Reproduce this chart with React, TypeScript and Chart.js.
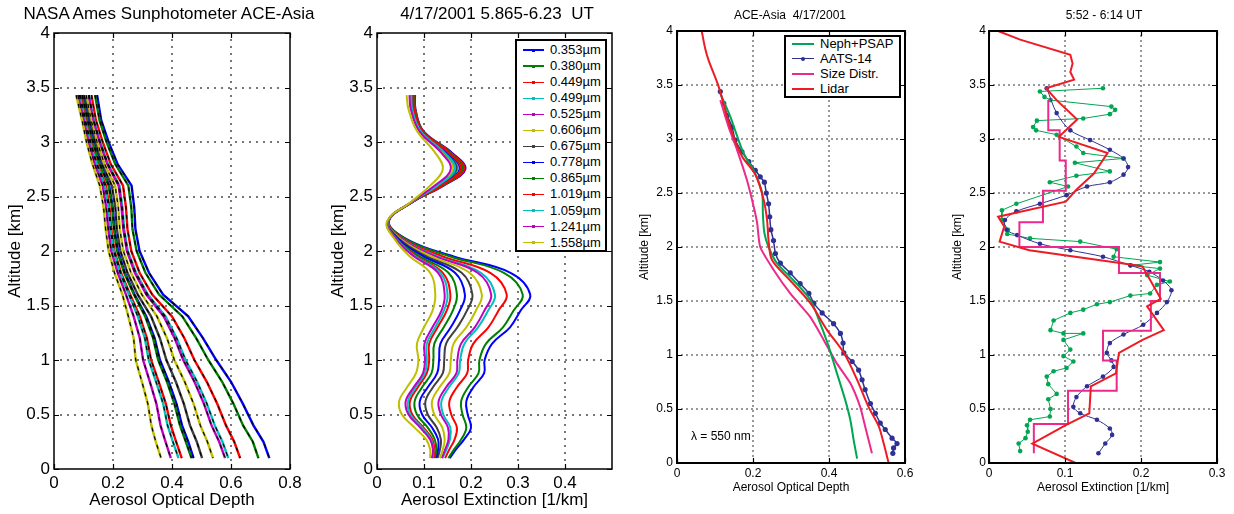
import React, { useEffect, useRef } from 'react';
import { Chart, registerables } from 'chart.js';

Chart.register(...registerables);

const FONT = '"Liberation Sans", Arial, Helvetica, sans-serif';
const H = 514;

// ================= Panel 1: AOD profiles (13 wavelengths) =================
const ALT1 = [3.43, 3.2, 3.0, 2.8, 2.6, 2.4, 2.2, 2.0, 1.8, 1.6, 1.4, 1.2, 1.0, 0.8, 0.6, 0.4, 0.25, 0.1];
const AOD_353 = [0.146, 0.16, 0.185, 0.215, 0.263, 0.272, 0.276, 0.29, 0.322, 0.37, 0.455, 0.505, 0.55, 0.6, 0.64, 0.676, 0.71, 0.73];
const AOD_380 = [0.139, 0.154, 0.178, 0.207, 0.252, 0.262, 0.266, 0.28, 0.31, 0.356, 0.435, 0.482, 0.523, 0.57, 0.608, 0.641, 0.674, 0.693];
const AOD_449 = [0.127, 0.142, 0.165, 0.192, 0.234, 0.244, 0.249, 0.262, 0.29, 0.333, 0.4, 0.442, 0.476, 0.518, 0.553, 0.583, 0.611, 0.631];
const AOD_499 = [0.119, 0.135, 0.157, 0.183, 0.222, 0.232, 0.238, 0.25, 0.278, 0.318, 0.378, 0.416, 0.446, 0.485, 0.518, 0.545, 0.571, 0.591];
const AOD_525 = [0.117, 0.133, 0.154, 0.18, 0.219, 0.229, 0.235, 0.247, 0.274, 0.313, 0.372, 0.409, 0.438, 0.476, 0.508, 0.534, 0.56, 0.58];
const AOD_606 = [0.109, 0.126, 0.146, 0.171, 0.207, 0.218, 0.223, 0.235, 0.261, 0.298, 0.349, 0.383, 0.408, 0.443, 0.473, 0.496, 0.52, 0.539];
const AOD_675 = [0.102, 0.12, 0.139, 0.162, 0.196, 0.208, 0.213, 0.225, 0.249, 0.284, 0.329, 0.359, 0.381, 0.413, 0.44, 0.461, 0.484, 0.502];
const AOD_778 = [0.096, 0.115, 0.133, 0.156, 0.187, 0.199, 0.205, 0.217, 0.24, 0.273, 0.313, 0.341, 0.359, 0.389, 0.415, 0.434, 0.455, 0.473];
const AOD_865 = [0.095, 0.113, 0.131, 0.154, 0.185, 0.197, 0.203, 0.214, 0.238, 0.271, 0.309, 0.336, 0.353, 0.383, 0.408, 0.427, 0.447, 0.466];
const AOD_1019 = [0.089, 0.107, 0.124, 0.146, 0.176, 0.188, 0.194, 0.205, 0.227, 0.258, 0.291, 0.315, 0.329, 0.355, 0.379, 0.396, 0.414, 0.433];
const AOD_1059 = [0.086, 0.105, 0.122, 0.144, 0.172, 0.185, 0.191, 0.202, 0.224, 0.254, 0.284, 0.308, 0.321, 0.346, 0.37, 0.385, 0.403, 0.422];
const AOD_1241 = [0.081, 0.101, 0.117, 0.138, 0.165, 0.177, 0.184, 0.194, 0.216, 0.244, 0.27, 0.291, 0.302, 0.325, 0.347, 0.361, 0.378, 0.396];
const AOD_1558 = [0.075, 0.095, 0.11, 0.13, 0.155, 0.168, 0.175, 0.185, 0.205, 0.232, 0.252, 0.27, 0.277, 0.298, 0.318, 0.33, 0.345, 0.363];

// ================= Panel 2: extinction profiles =================
const ALT2 = [3.43, 3.3, 3.1, 2.9, 2.75, 2.6, 2.45, 2.27, 2.1, 1.95, 1.8, 1.6, 1.45, 1.3, 1.15, 1.0, 0.88, 0.75, 0.62, 0.5, 0.38, 0.27, 0.18, 0.1];
const EXT_353 = [0.081, 0.082, 0.099, 0.16, 0.188, 0.142, 0.076, 0.025, 0.067, 0.163, 0.284, 0.326, 0.305, 0.283, 0.245, 0.229, 0.228, 0.205, 0.19, 0.193, 0.2, 0.185, 0.168, 0.155];
const EXT_380 = [0.079, 0.081, 0.098, 0.156, 0.183, 0.139, 0.076, 0.025, 0.065, 0.156, 0.27, 0.31, 0.29, 0.268, 0.232, 0.218, 0.216, 0.194, 0.179, 0.182, 0.19, 0.179, 0.164, 0.152];
const EXT_449 = [0.08, 0.081, 0.098, 0.158, 0.186, 0.141, 0.076, 0.025, 0.06, 0.14, 0.241, 0.276, 0.258, 0.237, 0.205, 0.194, 0.192, 0.17, 0.154, 0.158, 0.17, 0.165, 0.154, 0.145];
const EXT_499 = [0.075, 0.077, 0.094, 0.147, 0.171, 0.132, 0.075, 0.024, 0.057, 0.129, 0.221, 0.251, 0.236, 0.215, 0.186, 0.177, 0.174, 0.153, 0.137, 0.141, 0.156, 0.155, 0.148, 0.139];
const EXT_525 = [0.072, 0.075, 0.092, 0.142, 0.164, 0.128, 0.074, 0.023, 0.056, 0.125, 0.214, 0.243, 0.228, 0.208, 0.179, 0.171, 0.169, 0.147, 0.131, 0.136, 0.151, 0.152, 0.145, 0.138];
const EXT_606 = [0.071, 0.074, 0.091, 0.14, 0.162, 0.126, 0.074, 0.023, 0.053, 0.116, 0.197, 0.223, 0.21, 0.19, 0.163, 0.157, 0.154, 0.133, 0.117, 0.122, 0.139, 0.144, 0.14, 0.134];
const EXT_675 = [0.074, 0.076, 0.093, 0.146, 0.169, 0.13, 0.074, 0.023, 0.05, 0.106, 0.18, 0.203, 0.191, 0.171, 0.147, 0.143, 0.14, 0.119, 0.103, 0.108, 0.127, 0.136, 0.134, 0.129];
const EXT_778 = [0.077, 0.078, 0.096, 0.151, 0.176, 0.135, 0.075, 0.024, 0.048, 0.099, 0.166, 0.187, 0.176, 0.157, 0.135, 0.132, 0.128, 0.108, 0.091, 0.096, 0.117, 0.13, 0.13, 0.126];
const EXT_865 = [0.078, 0.08, 0.097, 0.155, 0.181, 0.138, 0.075, 0.024, 0.045, 0.091, 0.152, 0.17, 0.161, 0.142, 0.122, 0.12, 0.116, 0.096, 0.08, 0.085, 0.108, 0.123, 0.126, 0.123];
const EXT_1019 = [0.077, 0.079, 0.096, 0.153, 0.178, 0.136, 0.075, 0.024, 0.043, 0.085, 0.14, 0.156, 0.148, 0.129, 0.111, 0.111, 0.106, 0.087, 0.07, 0.075, 0.099, 0.118, 0.122, 0.12];
const EXT_1059 = [0.073, 0.075, 0.093, 0.144, 0.166, 0.129, 0.074, 0.023, 0.043, 0.082, 0.135, 0.15, 0.142, 0.124, 0.106, 0.106, 0.102, 0.082, 0.066, 0.071, 0.096, 0.115, 0.12, 0.118];
const EXT_1241 = [0.069, 0.072, 0.09, 0.137, 0.157, 0.123, 0.073, 0.022, 0.042, 0.079, 0.13, 0.144, 0.137, 0.118, 0.101, 0.102, 0.098, 0.078, 0.061, 0.067, 0.092, 0.113, 0.119, 0.117];
const EXT_1558 = [0.063, 0.067, 0.085, 0.124, 0.14, 0.113, 0.072, 0.021, 0.039, 0.07, 0.113, 0.124, 0.118, 0.1, 0.085, 0.088, 0.083, 0.064, 0.047, 0.053, 0.08, 0.105, 0.113, 0.113];

const WAVELENGTHS = ['0.353', '0.380', '0.449', '0.499', '0.525', '0.606', '0.675', '0.778', '0.865', '1.019', '1.059', '1.241', '1.558'];
const WL_COLORS = ['#0000ff', '#008000', '#ff0000', '#00bfbf', '#bf00bf', '#bfbf00', '#404040', '#0000ff', '#008000', '#ff0000', '#00bfbf', '#bf00bf', '#bfbf00'];
const AOD_SERIES = [AOD_353, AOD_380, AOD_449, AOD_499, AOD_525, AOD_606, AOD_675, AOD_778, AOD_865, AOD_1019, AOD_1059, AOD_1241, AOD_1558];
const EXT_SERIES = [EXT_353, EXT_380, EXT_449, EXT_499, EXT_525, EXT_606, EXT_675, EXT_778, EXT_865, EXT_1019, EXT_1059, EXT_1241, EXT_1558];

// ================= Panel 3: AOD comparison at 550 nm =================
const NEPH3_AOD = [0.114, 0.14, 0.153, 0.175, 0.206, 0.224, 0.226, 0.23, 0.241, 0.263, 0.307, 0.351, 0.377, 0.399, 0.421, 0.443, 0.456, 0.465, 0.474];
const NEPH3_ALT = [3.42, 3.21, 3.08, 2.87, 2.68, 2.5, 2.31, 2.13, 2.0, 1.85, 1.69, 1.51, 1.29, 1.08, 0.83, 0.58, 0.4, 0.21, 0.04];
const AATS3_AOD = [0.114, 0.123, 0.132, 0.145, 0.153, 0.171, 0.189, 0.206, 0.219, 0.23, 0.235, 0.241, 0.244, 0.247, 0.254, 0.259, 0.272, 0.298, 0.324, 0.347, 0.36, 0.382, 0.412, 0.43, 0.437, 0.439, 0.461, 0.478, 0.487, 0.495, 0.509, 0.522, 0.535, 0.548, 0.566, 0.579, 0.57, 0.568];
const AATS3_ALT = [3.44, 3.33, 3.22, 3.11, 2.99, 2.88, 2.79, 2.71, 2.65, 2.6, 2.5, 2.4, 2.28, 2.16, 2.06, 1.94, 1.85, 1.76, 1.66, 1.57, 1.48, 1.39, 1.29, 1.2, 1.11, 1.02, 0.94, 0.86, 0.77, 0.68, 0.55, 0.46, 0.37, 0.31, 0.23, 0.18, 0.14, 0.09];
const SIZE3_AOD = [0.114, 0.136, 0.158, 0.184, 0.202, 0.211, 0.219, 0.254, 0.298, 0.351, 0.386, 0.421, 0.456, 0.482, 0.495, 0.513];
const SIZE3_ALT = [3.36, 3.11, 2.9, 2.62, 2.37, 2.22, 2.0, 1.79, 1.57, 1.35, 1.14, 0.92, 0.74, 0.52, 0.34, 0.09];
const LIDAR3_AOD = [0.065, 0.074, 0.083, 0.11, 0.14, 0.171, 0.206, 0.228, 0.237, 0.241, 0.25, 0.298, 0.351, 0.395, 0.439, 0.474, 0.504, 0.531, 0.544, 0.557];
const LIDAR3_ALT = [4.0, 3.84, 3.73, 3.48, 3.11, 2.84, 2.67, 2.44, 2.25, 2.06, 1.88, 1.69, 1.48, 1.23, 1.02, 0.77, 0.52, 0.34, 0.18, 0.0];

// ================= Panel 4: extinction comparison =================
const NEPH4_EXT = [0.15, 0.067, 0.073, 0.081, 0.161, 0.166, 0.159, 0.124, 0.063, 0.058, 0.062, 0.089, 0.115, 0.124, 0.177, 0.113, 0.159, 0.115, 0.08, 0.104, 0.036, 0.017, 0.017, 0.025, 0.024, 0.054, 0.12, 0.168, 0.164, 0.225, 0.186, 0.225, 0.208, 0.238, 0.221, 0.212, 0.186, 0.159, 0.142, 0.124, 0.107, 0.085, 0.081, 0.098, 0.124, 0.098, 0.107, 0.098, 0.111, 0.102, 0.085, 0.076, 0.078, 0.089, 0.078, 0.081, 0.08, 0.054, 0.05, 0.051, 0.048, 0.039, 0.041];
const NEPH4_ALT = [3.47, 3.44, 3.39, 3.36, 3.3, 3.27, 3.23, 3.19, 3.17, 3.11, 3.08, 3.04, 2.93, 2.87, 2.82, 2.78, 2.7, 2.66, 2.6, 2.56, 2.4, 2.34, 2.25, 2.16, 2.12, 2.08, 2.05, 1.98, 1.91, 1.86, 1.83, 1.8, 1.74, 1.68, 1.65, 1.57, 1.55, 1.49, 1.47, 1.42, 1.39, 1.32, 1.23, 1.2, 1.2, 1.14, 1.05, 0.99, 0.94, 0.88, 0.85, 0.8, 0.73, 0.64, 0.59, 0.5, 0.43, 0.4, 0.35, 0.29, 0.23, 0.18, 0.11];
const AATS4_EXT = [0.076, 0.089, 0.107, 0.133, 0.159, 0.177, 0.183, 0.177, 0.159, 0.129, 0.102, 0.067, 0.036, 0.021, 0.023, 0.037, 0.067, 0.107, 0.15, 0.186, 0.211, 0.229, 0.24, 0.234, 0.221, 0.203, 0.177, 0.159, 0.155, 0.161, 0.164, 0.15, 0.129, 0.115, 0.111, 0.12, 0.142, 0.159, 0.162, 0.153, 0.144];
const AATS4_ALT = [3.47, 3.24, 3.08, 2.99, 2.9, 2.82, 2.74, 2.67, 2.6, 2.56, 2.48, 2.4, 2.33, 2.25, 2.16, 2.11, 2.03, 1.97, 1.91, 1.83, 1.77, 1.69, 1.6, 1.49, 1.39, 1.28, 1.19, 1.11, 1.02, 0.95, 0.89, 0.8, 0.71, 0.61, 0.52, 0.46, 0.4, 0.32, 0.26, 0.18, 0.09];
const SIZE4_EXT = [0.078, 0.093, 0.101, 0.071, 0.04, 0.171, 0.225, 0.213, 0.15, 0.168, 0.104, 0.059, 0.059];
const SIZE4_ALT = [3.36, 3.08, 2.8, 2.52, 2.23, 2.0, 1.76, 1.5, 1.225, 0.95, 0.67, 0.36, 0.09];
const LIDAR4_EXT = [0.012, 0.041, 0.107, 0.11, 0.107, 0.112, 0.075, 0.089, 0.116, 0.092, 0.156, 0.138, 0.115, 0.101, 0.012, 0.02, 0.014, 0.053, 0.193, 0.202, 0.226, 0.208, 0.23, 0.202, 0.171, 0.167, 0.134, 0.132, 0.101, 0.057, 0.114];
const LIDAR4_ALT = [4.0, 3.92, 3.78, 3.7, 3.62, 3.55, 3.47, 3.36, 3.18, 3.02, 2.87, 2.68, 2.53, 2.42, 2.28, 2.19, 2.05, 1.97, 1.83, 1.82, 1.52, 1.45, 1.23, 1.14, 1.02, 0.83, 0.71, 0.46, 0.35, 0.18, 0.0];

const COMP_LABELS = ['Neph+PSAP', 'AATS-14', 'Size Distr.', 'Lidar'];
const COMP_COLORS = ['#00a651', '#2e3192', '#ec2a8c', '#ed1c24'];

// ================= Ticks =================
const Y_TICKS = [0, 0.5, 1, 1.5, 2, 2.5, 3, 3.5, 4];
const X1_TICKS = [0, 0.2, 0.4, 0.6, 0.8];
const X2_TICKS = [0, 0.1, 0.2, 0.3, 0.4];
const X3_TICKS = [0, 0.2, 0.4, 0.6];
const X4_TICKS = [0, 0.1, 0.2, 0.3];

const pts = (xs: number[], ys: number[]) => xs.map((x, i) => ({ x, y: ys[i] }));

type Spec = {
  cl: number; l: number; t: number; r: number; b: number; rp: number;
  xMax: number; xTicks: number[]; fs: number; xTitle: string; yTitle: string;
  yTitlePad: number; xTitlePad: number; xTickPad: number; yTickPad: number;
  dot: number; gap: number; grid: string; frameW: number;
};

// MATLAB-style axes: dotted grid under the data, black box with inward ticks on top
function makeFramePlugin(s: Spec) {
  const dotRow = (ctx: CanvasRenderingContext2D, x0: number, y0: number, x1: number, y1: number) => {
    const len = Math.hypot(x1 - x0, y1 - y0);
    const n = Math.floor(len / s.gap);
    for (let k = 1; k < n; k++) {
      const f = (k * s.gap) / len;
      const x = x0 + (x1 - x0) * f;
      const y = y0 + (y1 - y0) * f;
      ctx.fillRect(Math.round(x - s.dot / 2), Math.round(y - s.dot / 2), s.dot, s.dot);
    }
  };
  return {
    id: 'matlabFrame',
    beforeDatasetsDraw(chart: any) {
      const { ctx, chartArea: a, scales } = chart;
      ctx.save();
      ctx.fillStyle = s.grid;
      s.xTicks.forEach((v) => {
        const p = scales.x.getPixelForValue(v);
        if (p <= a.left + 2 || p >= a.right - 2) return;
        dotRow(ctx, p, a.top, p, a.bottom);
      });
      Y_TICKS.forEach((v) => {
        const p = scales.y.getPixelForValue(v);
        if (p <= a.top + 2 || p >= a.bottom - 2) return;
        dotRow(ctx, a.left, p, a.right, p);
      });
      ctx.restore();
    },
    afterDatasetsDraw(chart: any) {
      const { ctx, chartArea: a, scales } = chart;
      ctx.save();
      ctx.setLineDash([]);
      ctx.strokeStyle = '#000';
      ctx.lineWidth = s.frameW;
      ctx.strokeRect(a.left, a.top, a.right - a.left, a.bottom - a.top);
      const L = 5;
      ctx.lineWidth = 1.2;
      ctx.beginPath();
      s.xTicks.forEach((v) => {
        const p = Math.round(scales.x.getPixelForValue(v)) + 0.5;
        ctx.moveTo(p, a.bottom); ctx.lineTo(p, a.bottom - L);
        ctx.moveTo(p, a.top); ctx.lineTo(p, a.top + L);
      });
      Y_TICKS.forEach((v) => {
        const p = Math.round(scales.y.getPixelForValue(v)) + 0.5;
        ctx.moveTo(a.left, p); ctx.lineTo(a.left + L, p);
        ctx.moveTo(a.right, p); ctx.lineTo(a.right - L, p);
      });
      ctx.stroke();
      ctx.restore();
    },
  };
}

function makeOptions(s: Spec) {
  const font = { family: FONT, size: s.fs };
  const fmt = (v: any) => String(Number(v));
  return {
    responsive: false,
    maintainAspectRatio: false,
    animation: false,
    events: [],
    layout: { padding: { left: 0, right: s.rp, top: s.t, bottom: 0 } },
    plugins: {
      legend: { display: false },
      tooltip: { enabled: false },
      title: { display: false },
    },
    scales: {
      x: {
        type: 'linear', min: 0, max: s.xMax,
        afterBuildTicks: (sc: any) => { sc.ticks = s.xTicks.map((v) => ({ value: v })); },
        afterFit: (sc: any) => { sc.height = H - s.b; },
        grid: { display: false, drawTicks: false },
        border: { display: false },
        ticks: { color: '#000', font, padding: s.xTickPad, maxRotation: 0, autoSkip: false, callback: fmt },
        title: { display: true, text: s.xTitle, color: '#000', font, padding: { top: 0, bottom: s.xTitlePad } },
      },
      y: {
        type: 'linear', min: 0, max: 4,
        afterBuildTicks: (sc: any) => { sc.ticks = Y_TICKS.map((v) => ({ value: v })); },
        afterFit: (sc: any) => { sc.width = s.l - s.cl; },
        grid: { display: false, drawTicks: false },
        border: { display: false },
        ticks: { color: '#000', font, padding: s.yTickPad, autoSkip: false, callback: fmt },
        title: { display: true, text: s.yTitle, color: '#000', font, padding: { top: s.yTitlePad, bottom: 0 } },
      },
    },
  };
}

function Panel({ spec, build }: { spec: Spec; build: () => any[] }) {
  const ref = useRef<HTMLCanvasElement>(null);
  const w = spec.r + spec.rp - spec.cl;
  useEffect(() => {
    const chart = new Chart(ref.current as HTMLCanvasElement, {
      type: 'line',
      data: { datasets: build() },
      options: makeOptions(spec) as any,
      plugins: [makeFramePlugin(spec) as any],
    });
    return () => chart.destroy();
  }, []);
  return (
    <canvas ref={ref} width={w} height={H}
      style={{ position: 'absolute', left: spec.cl, top: 0, width: w, height: H }} />
  );
}

const SPEC1: Spec = { cl: 0, l: 54, t: 33, r: 290, b: 469, rp: 30, xMax: 0.8, xTicks: X1_TICKS, fs: 17,
  xTitle: 'Aerosol Optical Depth', yTitle: 'Altitude [km]', yTitlePad: 4.8, xTitlePad: 3.8, xTickPad: 4, yTickPad: 4,
  dot: 2, gap: 7, grid: '#777', frameW: 1.5 };
const SPEC2: Spec = { cl: 310, l: 377, t: 33, r: 612, b: 469, rp: 30, xMax: 0.5, xTicks: X2_TICKS, fs: 17,
  xTitle: 'Aerosol Extinction [1/km]', yTitle: 'Altitude [km]', yTitlePad: 17.8, xTitlePad: 3.8, xTickPad: 4, yTickPad: 4,
  dot: 2, gap: 7, grid: '#777', frameW: 1.5 };
const SPEC3: Spec = { cl: 620, l: 677, t: 31, r: 905, b: 463, rp: 25, xMax: 0.6, xTicks: X3_TICKS, fs: 12,
  xTitle: 'Aerosol Optical Depth', yTitle: 'Altitude [km]', yTitlePad: 17.8, xTitlePad: 18.8, xTickPad: 3, yTickPad: 4,
  dot: 2, gap: 5, grid: '#999', frameW: 2 };
const SPEC4: Spec = { cl: 930, l: 989, t: 31, r: 1217, b: 463, rp: 17, xMax: 0.3, xTicks: X4_TICKS, fs: 12,
  xTitle: 'Aerosol Extinction [1/km]', yTitle: 'Altitude [km]', yTitlePad: 20.8, xTitlePad: 18.8, xTickPad: 3, yTickPad: 3,
  dot: 2, gap: 5, grid: '#999', frameW: 2 };

const build1 = () => {
  const ds: any[] = [];
  AOD_SERIES.forEach((xs, i) => {
    const data = pts(xs, ALT1);
    ds.push({ label: WAVELENGTHS[i], data, borderColor: WL_COLORS[i], borderWidth: 2.4, pointRadius: 0, tension: 0, order: 20 - i });
    ds.push({ label: WAVELENGTHS[i] + ' err', data, borderColor: '#000', borderWidth: 1.2, borderDash: [4, 5], pointRadius: 0, tension: 0, order: 0 });
  });
  return ds;
};

const build2 = () =>
  EXT_SERIES.map((xs, i) => ({
    label: WAVELENGTHS[i] + 'µm', data: pts(xs, ALT2), borderColor: WL_COLORS[i], borderWidth: 2,
    pointRadius: 0, tension: 0.4, order: 20 - i,
  }));

const build3 = () => [
  { label: COMP_LABELS[3], data: pts(LIDAR3_AOD, LIDAR3_ALT), borderColor: COMP_COLORS[3], borderWidth: 2, pointRadius: 0, tension: 0.3, order: 0 },
  { label: COMP_LABELS[1], data: pts(AATS3_AOD, AATS3_ALT), borderColor: COMP_COLORS[1], backgroundColor: COMP_COLORS[1],
    borderWidth: 1.5, pointRadius: 2.6, pointBorderWidth: 0, pointBackgroundColor: COMP_COLORS[1], tension: 0.2, order: 3 },
  { label: COMP_LABELS[2], data: pts(SIZE3_AOD, SIZE3_ALT), borderColor: COMP_COLORS[2], borderWidth: 2, pointRadius: 0, tension: 0.2, order: 2 },
  { label: COMP_LABELS[0], data: pts(NEPH3_AOD, NEPH3_ALT), borderColor: COMP_COLORS[0], borderWidth: 2, pointRadius: 0, tension: 0.3, order: 1 },
];

const build4 = () => [
  { label: COMP_LABELS[0], data: pts(NEPH4_EXT, NEPH4_ALT), borderColor: COMP_COLORS[0], backgroundColor: COMP_COLORS[0],
    borderWidth: 1, pointRadius: 2.3, pointBorderWidth: 0, pointBackgroundColor: COMP_COLORS[0], tension: 0, order: 3 },
  { label: COMP_LABELS[1], data: pts(AATS4_EXT, AATS4_ALT), borderColor: COMP_COLORS[1], backgroundColor: COMP_COLORS[1],
    borderWidth: 1, pointRadius: 2.3, pointBorderWidth: 0, pointBackgroundColor: COMP_COLORS[1], tension: 0.3, order: 2 },
  { label: COMP_LABELS[2], data: pts(SIZE4_EXT, SIZE4_ALT), borderColor: COMP_COLORS[2], borderWidth: 2, pointRadius: 0, stepped: 'after', order: 1 },
  { label: COMP_LABELS[3], data: pts(LIDAR4_EXT, LIDAR4_ALT), borderColor: COMP_COLORS[3], borderWidth: 2, pointRadius: 0, tension: 0, order: 0 },
];

function Title({ text, cx, top, fs }: { text: string; cx: number; top: number; fs: number }) {
  return (
    <div style={{ position: 'absolute', left: cx - 200, top, width: 400, textAlign: 'center', whiteSpace: 'pre',
      fontFamily: FONT, fontSize: fs, lineHeight: `${Math.round(fs * 1.2)}px`, color: '#000' }}>{text}</div>
  );
}

function Legend2() {
  return (
    <div style={{ position: 'absolute', left: 515, top: 39, width: 92, height: 213, boxSizing: 'border-box',
      border: '2px solid #000', background: '#fff' }}>
      {WAVELENGTHS.map((w, i) => {
        const cy = 9 + 16.05 * i;
        return (
          <React.Fragment key={w}>
            <div style={{ position: 'absolute', left: 6, top: cy - 0.6, width: 21, height: 1.2, background: WL_COLORS[i] }} />
            <div style={{ position: 'absolute', left: 15, top: cy - 1.5, width: 3, height: 3, background: WL_COLORS[i] }} />
            <div style={{ position: 'absolute', left: 33, top: cy - 8, height: 16, lineHeight: '16px', fontFamily: FONT,
              fontSize: 13, color: '#000', whiteSpace: 'pre' }}>{w + 'µm'}</div>
          </React.Fragment>
        );
      })}
    </div>
  );
}

function Legend3() {
  return (
    <div style={{ position: 'absolute', left: 784, top: 35, width: 117, height: 63, boxSizing: 'border-box',
      border: '2px solid #000', background: '#fff' }}>
      {COMP_LABELS.map((lab, i) => {
        const cy = 6.5 + 15 * i;
        return (
          <React.Fragment key={lab}>
            <div style={{ position: 'absolute', left: 6, top: cy - 1, width: 22, height: i === 1 ? 1 : 2.5, background: COMP_COLORS[i] }} />
            {i === 1 && <div style={{ position: 'absolute', left: 15, top: cy - 2, width: 4, height: 4, borderRadius: 2, background: COMP_COLORS[i] }} />}
            <div style={{ position: 'absolute', left: 34, top: cy - 8, height: 16, lineHeight: '16px', fontFamily: FONT,
              fontSize: 13, color: '#000', whiteSpace: 'pre' }}>{lab}</div>
          </React.Fragment>
        );
      })}
    </div>
  );
}

export default function App() {
  return (
    <div style={{ position: 'absolute', left: 0, top: 0, width: 1234, height: H, background: '#fff', overflow: 'hidden' }}>
      <Panel spec={SPEC1} build={build1} />
      <Panel spec={SPEC2} build={build2} />
      <Panel spec={SPEC3} build={build3} />
      <Panel spec={SPEC4} build={build4} />
      <Title text="NASA Ames Sunphotometer ACE-Asia" cx={169} top={4} fs={17} />
      <Title text="4/17/2001 5.865-6.23  UT" cx={497} top={4} fs={17} />
      <Title text="ACE-Asia  4/17/2001" cx={790} top={8} fs={12} />
      <Title text="5:52 - 6:14 UT" cx={1104} top={8} fs={12} />
      <Legend2 />
      <Legend3 />
      <div style={{ position: 'absolute', left: 691, top: 428, height: 16, lineHeight: '16px', fontFamily: FONT,
        fontSize: 12, color: '#000', whiteSpace: 'pre' }}>λ = 550 nm</div>
    </div>
  );
}
